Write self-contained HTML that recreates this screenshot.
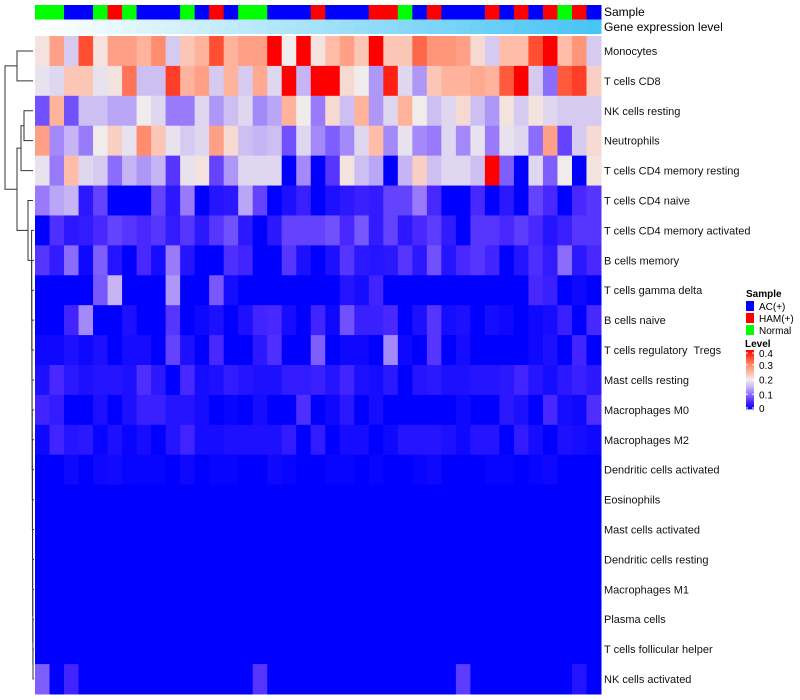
<!DOCTYPE html>
<html><head><meta charset="utf-8">
<style>
body{margin:0;background:#fff;}
svg{display:block;font-family:"Liberation Sans",sans-serif;}
text{white-space:pre;}
</style></head>
<body>
<svg id="chart" width="800" height="700" xmlns="http://www.w3.org/2000/svg">
  <g id="dendro" stroke="#333" stroke-width="1" fill="none"></g>
  <g id="annot"></g>
  <g id="cells"></g>
  <g id="labels" font-size="11" fill="#111"></g>
  <text x="604" y="16" font-size="12">Sample</text>
  <text x="604" y="31" font-size="12">Gene expression level</text>
  <g id="legend" font-size="10"></g>
</svg>
<script>
const rowNames = ["Monocytes","T cells CD8","NK cells resting","Neutrophils","T cells CD4 memory resting","T cells CD4 naive","T cells CD4 memory activated","B cells memory","T cells gamma delta","B cells naive","T cells regulatory  Tregs","Mast cells resting","Macrophages M0","Macrophages M2","Dendritic cells activated","Eosinophils","Mast cells activated","Dendritic cells resting","Macrophages M1","Plasma cells","T cells follicular helper","NK cells activated"];
const sampleGroups = ["Normal","Normal","AC","AC","Normal","HAM","Normal","AC","AC","AC","Normal","AC","HAM","AC","Normal","Normal","AC","AC","AC","HAM","AC","AC","AC","HAM","HAM","Normal","AC","HAM","AC","AC","AC","HAM","AC","HAM","AC","HAM","Normal","HAM","AC"];
const rowMonocytes = [0.21,0.28,0.17,0.35,0.21,0.28,0.28,0.26,0.30,0.17,0.24,0.26,0.35,0.26,0.28,0.28,0.40,0.20,0.40,0.21,0.25,0.28,0.24,0.40,0.24,0.24,0.33,0.29,0.29,0.28,0.22,0.17,0.25,0.25,0.35,0.40,0.25,0.29,0.17];
const rowCD8 = [0.19,0.18,0.24,0.24,0.19,0.21,0.32,0.16,0.16,0.36,0.26,0.28,0.17,0.26,0.17,0.27,0.18,0.40,0.15,0.40,0.40,0.22,0.20,0.13,0.38,0.18,0.13,0.24,0.26,0.26,0.27,0.26,0.34,0.40,0.17,0.10,0.34,0.36,0.23];
const rowNKrest = [0.08,0.26,0.08,0.16,0.16,0.14,0.14,0.20,0.18,0.11,0.11,0.18,0.13,0.16,0.18,0.12,0.14,0.26,0.20,0.11,0.22,0.16,0.26,0.13,0.18,0.26,0.20,0.16,0.18,0.22,0.16,0.13,0.21,0.17,0.21,0.18,0.17,0.17,0.17];
const rowNeut = [0.28,0.12,0.15,0.11,0.20,0.23,0.19,0.30,0.24,0.19,0.17,0.18,0.28,0.22,0.16,0.15,0.16,0.08,0.18,0.12,0.09,0.12,0.18,0.25,0.12,0.19,0.12,0.11,0.18,0.12,0.19,0.11,0.19,0.18,0.10,0.28,0.07,0.17,0.22];
const rowCD4mr = [0.19,0.11,0.25,0.18,0.17,0.10,0.15,0.13,0.15,0.06,0.19,0.21,0.07,0.13,0.18,0.18,0.18,0,0.12,0,0.06,0.21,0.16,0.14,0,0.15,0.23,0.16,0.18,0.18,0.16,0.40,0.09,0,0.18,0.09,0.20,0,0.21];
const rowCD4n = [0.11,0.14,0.15,0.03,0.07,0,0,0,0.07,0.03,0.11,0,0.025,0.03,0.14,0.07,0,0.02,0.04,0,0.02,0.03,0.04,0.035,0.07,0.07,0.11,0.05,0,0,0.05,0,0.03,0,0.07,0.05,0,0.05,0.06];
const rowCD4ma = [0,0.055,0.03,0.035,0.05,0.07,0.06,0.05,0.06,0.035,0.06,0.03,0.06,0.08,0.03,0,0.03,0.07,0.07,0.07,0.08,0.05,0.085,0.035,0.07,0.03,0.05,0.065,0.035,0,0.06,0.06,0.05,0.065,0.05,0.025,0.04,0.06,0.06];
const rowBmem = [0.06,0.035,0.10,0.01,0.09,0.025,0,0.05,0.015,0.11,0.025,0,0,0.055,0.045,0,0,0.06,0.02,0,0.02,0.06,0.03,0.025,0.03,0.06,0.03,0.08,0.025,0.05,0.06,0.045,0,0.025,0.055,0.035,0.10,0.03,0.05];
const rowTgd = [0,0,0,0,0.085,0.15,0,0,0,0.13,0,0,0.085,0.015,0,0,0,0,0,0,0,0.025,0.015,0.045,0,0,0,0,0,0,0,0,0,0,0.05,0.04,0,0.01,0];
const rowBnaive = [0,0,0.045,0.12,0,0,0.02,0,0,0.06,0,0.01,0.02,0,0.02,0.045,0.05,0.015,0,0.045,0.01,0.08,0.04,0.04,0.05,0,0.02,0.06,0.015,0.02,0,0.015,0.01,0,0.01,0.015,0.04,0,0.05];
const rowTreg = [0.01,0.01,0.02,0.01,0.02,0,0.015,0.015,0,0.07,0.02,0,0.05,0,0,0.03,0.055,0,0,0.09,0,0.01,0.01,0,0.12,0.01,0,0.06,0,0.015,0,0,0,0,0.01,0.02,0,0.045,0];
const rowMastR = [0.02,0.05,0.03,0.02,0.025,0.025,0.02,0.055,0.03,0,0.05,0.015,0.02,0.035,0.025,0.02,0.02,0.035,0.035,0.04,0.025,0.045,0.02,0.015,0.03,0,0.025,0.03,0.02,0.02,0.025,0.025,0.03,0.045,0.025,0.015,0.03,0.04,0.03];
const rowM0 = [0.045,0.035,0,0,0.02,0,0.02,0.04,0.04,0.025,0.025,0.015,0,0.005,0,0.015,0,0,0.055,0,0.01,0.03,0,0.015,0,0,0,0,0,0.01,0,0,0.03,0.02,0,0.05,0.015,0.01,0.055];
const rowM2 = [0.01,0.045,0.025,0.03,0.005,0.02,0.005,0.015,0,0.025,0.045,0.015,0.015,0.02,0.02,0.02,0.02,0.035,0,0.035,0,0.015,0.015,0,0.01,0.025,0.025,0.025,0.02,0.01,0.025,0.025,0,0.035,0.015,0,0.02,0.015,0.01];
const rowDCact = [0,0,0.01,0,0.01,0.012,0.005,0.005,0.005,0,0.01,0,0.005,0.005,0,0,0.01,0.005,0,0,0.005,0.005,0,0.005,0,0,0.005,0.01,0,0,0,0.005,0.005,0,0.005,0.01,0,0,0];
const rowEos = [0,0,0,0,0,0,0,0,0,0,0,0,0,0,0,0,0,0,0,0,0,0,0,0,0,0,0,0,0,0,0,0,0,0,0,0,0,0,0];
const rowMastA = [0,0,0,0,0,0,0,0,0,0,0,0,0,0,0,0,0,0,0,0,0,0,0,0,0,0,0,0,0,0,0,0,0,0,0,0,0,0,0];
const rowDCrest = [0,0,0,0,0,0,0,0,0,0,0,0,0,0,0,0,0,0,0,0,0,0,0,0,0,0,0,0,0,0,0,0,0,0,0,0,0,0,0];
const rowM1 = [0,0,0,0,0,0,0,0,0,0,0,0,0,0,0,0,0,0,0,0,0,0,0,0,0,0,0,0,0,0,0,0,0,0,0,0,0,0,0];
const rowPlasma = [0,0,0,0,0,0,0,0,0,0,0,0,0,0,0,0,0,0,0,0,0,0,0,0,0,0,0,0,0,0,0,0,0,0,0,0,0,0,0];
const rowTfh = [0,0,0,0,0,0,0,0,0,0,0,0,0,0,0,0,0,0,0,0,0,0,0,0,0,0,0,0,0,0,0,0,0,0,0,0,0,0,0];
const rowNKact = [0.09,0,0.045,0,0,0,0,0,0,0,0,0,0,0,0,0.06,0,0,0,0,0,0,0,0,0,0,0,0,0,0.065,0,0,0,0,0,0,0,0.025,0];
const matrix = [rowMonocytes,rowCD8,rowNKrest,rowNeut,rowCD4mr,rowCD4n,rowCD4ma,rowBmem,rowTgd,rowBnaive,rowTreg,rowMastR,rowM0,rowM2,rowDCact,rowEos,rowMastA,rowDCrest,rowM1,rowPlasma,rowTfh,rowNKact];
const legendTicks = [0,0.1,0.2,0.3,0.4];

const NS="http://www.w3.org/2000/svg";
const X0=35,X1=601,Y0=36,Y1=694;
const nC=sampleGroups.length,nR=rowNames.length;
const cw=(X1-X0)/nC,rh=(Y1-Y0)/nR;
const xCol=i=>X0+i*cw, yRow=j=>Y0+j*rh;
const stops=[[0,[0,0,255]],[0.05,[72,40,255]],[0.1,[140,108,252]],[0.15,[198,180,245]],[0.2,[240,236,236]],[0.25,[255,188,168]],[0.3,[255,140,110]],[0.35,[255,78,50]],[0.4,[255,0,0]]];
function col(v){v=Math.max(0,Math.min(0.4,v));for(let k=1;k<stops.length;k++){if(v<=stops[k][0]){const a=stops[k-1],b=stops[k];const t=(v-a[0])/(b[0]-a[0]);const c=a[1].map((x,i)=>Math.round(x+(b[1][i]-x)*t));return `rgb(${c})`;}}return "rgb(255,0,0)";}
function el(tag,attrs,parent){const e=document.createElementNS(NS,tag);for(const k in attrs)e.setAttribute(k,attrs[k]);parent.appendChild(e);return e;}
const gCells=document.getElementById('cells');
matrix.forEach((row,j)=>row.forEach((v,i)=>{
  const r=el('rect',{x:xCol(i),y:yRow(j),width:cw+0.5,height:rh+0.5,fill:col(v)},gCells);
  
  
}));
const gA=document.getElementById('annot');
const sc={AC:"#0000ff",HAM:"#ff0000",Normal:"#00ff00"};
sampleGroups.forEach((s,i)=>{
  const r=el('rect',{x:xCol(i),y:5,width:cw+0.5,height:14.5,fill:sc[s]},gA);
  
  
  const g=el('rect',{x:xCol(i),y:19.5,width:cw+0.5,height:14.5,fill:`rgb(${Math.round(255-(255-72)*i/(nC-1))},${Math.round(255-(255-196)*i/(nC-1))},${Math.round(255-(255-245)*i/(nC-1))})`},gA);
  
  
});
const gL=document.getElementById('labels');
rowNames.forEach((n,j)=>{
  const t=el('text',{x:604,y:yRow(j)+rh/2+4},gL);t.textContent=n;
  
  
});
const gD=document.getElementById('dendro');
const yc=j=>yRow(j)+rh/2;
function br(x,ya,yb,xa,xb){el('path',{d:`M${xa},${ya}H${x}V${yb}H${xb}`},gD);}
br(17,yc(0),yc(1),33,33);
br(24,yc(2),yc(3),33,33);
const y34=(yc(2)+yc(3))/2;
br(21,y34,yc(4),24,33);
const y345=(y34+yc(4))/2;
let yl=(yc(20)+yc(21))/2;
br(33,yc(20),yc(21),34,34);
let xl=33;
for(let j=19;j>=6;j--){const x=Math.max(31.5,33-(20-j)*0.1);br(x,yc(j),yl,34,xl);yl=(yc(j)+yl)/2;xl=x;}
br(28,yc(5),yl,33,xl);
const y6=(yc(5)+yl)/2;
br(17,y345,y6,21,28);
const yB=(y345+y6)/2;
br(5,(yc(0)+yc(1))/2,yB,17,17);
const gLe=document.getElementById('legend');
const t1=el('text',{x:746,y:297,'font-weight':'bold'},gLe);t1.textContent="Sample";

[["AC(+)","#0000ff"],["HAM(+)","#ff0000"],["Normal","#00ff00"]].forEach((e,k)=>{
  const r=el('rect',{x:746,y:301+k*12,width:8,height:10,fill:e[1]},gLe);
  
  const t=el('text',{x:759,y:310+k*12},gLe);t.textContent=e[0];
  
});
const t2=el('text',{x:745,y:347,'font-weight':'bold'},gLe);t2.textContent="Level";

const cb0=409,cb1=350;
for(let k=0;k<59;k++){const v=0.4*(k+0.5)/59;const r=el('rect',{x:746,y:cb0-(k+1)*(cb0-cb1)/59,width:8,height:(cb0-cb1)/59+0.4,fill:col(v)},gLe);
  }
legendTicks.forEach(v=>{const y=cb0-(v/0.4)*(cb0-cb1)-(v===0.4?-3:0)-(v===0?1:0);
  el('line',{x1:746,x2:748,y1:y,y2:y,stroke:'#fff'},gLe);
  el('line',{x1:752,x2:754,y1:y,y2:y,stroke:'#fff'},gLe);
  const t=el('text',{x:759,y:y+4},gLe);t.textContent=String(v);
  });
</script>
</body></html>
